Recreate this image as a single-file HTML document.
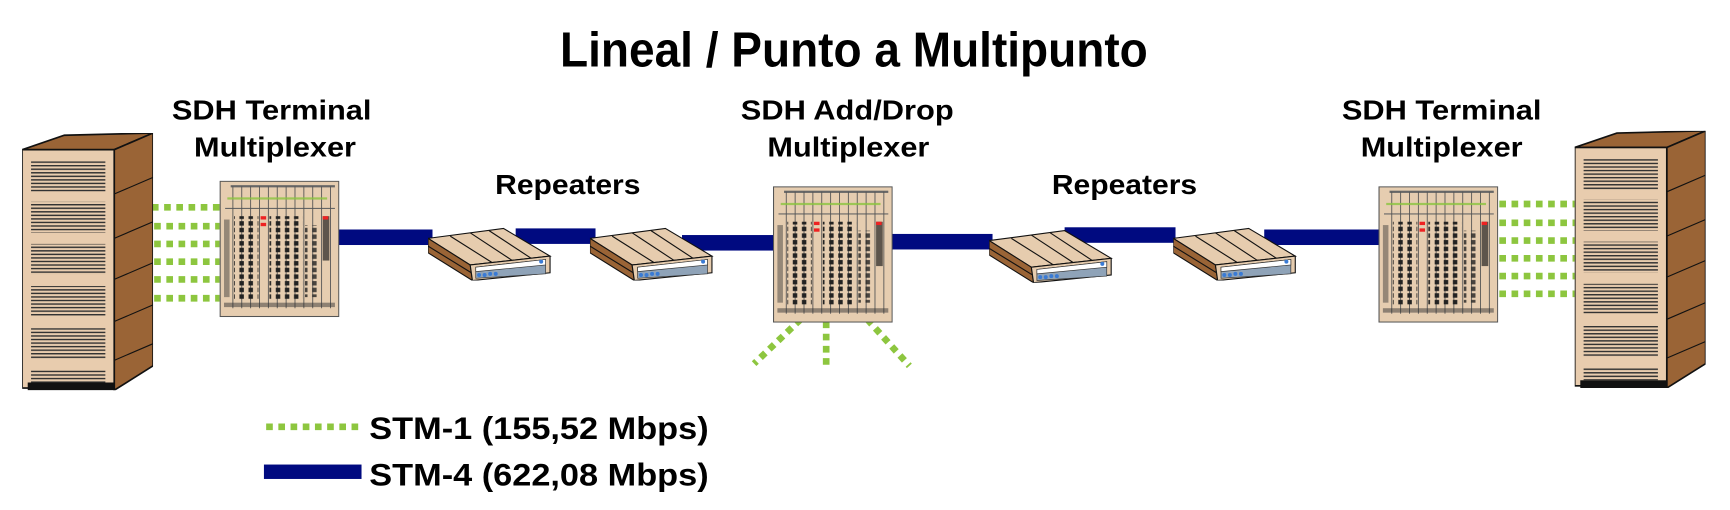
<!DOCTYPE html>
<html><head><meta charset="utf-8"><style>html,body{margin:0;padding:0;background:#fff}svg{display:block}</style></head>
<body>
<svg width="1730" height="510" viewBox="0 0 1560 460" preserveAspectRatio="none" xmlns="http://www.w3.org/2000/svg" font-family="Liberation Sans, sans-serif" font-weight="bold">
<defs>
  <pattern id="rk" width="4" height="3.2" patternUnits="userSpaceOnUse"><rect width="4" height="1.3" fill="#333"/></pattern>
  <pattern id="cells" width="8.2" height="6" patternUnits="userSpaceOnUse"><rect x="1.5" y="0.5" width="4" height="4" fill="#222"/></pattern>
  <symbol id="rack" viewBox="0 0 118 232" width="118" height="232">
    <polygon points="0,15 38,2 118,0 83,15" fill="#9a6436" stroke="#111" stroke-width="1.5"/>
    <polygon points="83,15 118,0 118,210 83,232" fill="#9a6436" stroke="#111" stroke-width="1.5"/>
    <line x1="83" y1="55" x2="118" y2="40" stroke="#111"/><line x1="83" y1="95" x2="118" y2="80" stroke="#111"/>
    <line x1="83" y1="132" x2="118" y2="117" stroke="#111"/><line x1="83" y1="170" x2="118" y2="155" stroke="#111"/>
    <line x1="83" y1="205" x2="118" y2="190" stroke="#111"/>
    <rect x="0" y="15" width="83" height="215" fill="#e8ccae" stroke="#111" stroke-width="1.5"/>
    <rect x="5" y="225" width="78" height="7" fill="#111"/>
    <rect x="8" y="25" width="67" height="28" fill="url(#rk)"/><rect x="8" y="62" width="67" height="28" fill="url(#rk)"/>
    <rect x="8" y="100" width="67" height="28" fill="url(#rk)"/><rect x="8" y="138" width="67" height="28" fill="url(#rk)"/>
    <rect x="8" y="176" width="67" height="28" fill="url(#rk)"/><rect x="8" y="213" width="67" height="12" fill="url(#rk)"/>
  </symbol>
  <symbol id="mux" viewBox="0 0 108 123" width="108" height="123">
    <rect x="0.5" y="0.5" width="107" height="122" fill="#e6cdb0" stroke="#555"/>
    <rect x="10" y="4" width="94" height="2" fill="#666"/>
    <line x1="5" y1="25" x2="104" y2="25" stroke="#666"/>
    <g stroke="#555" stroke-width="0.8">
      <line x1="12" y1="5" x2="12" y2="115"/><line x1="20" y1="5" x2="20" y2="115"/><line x1="28" y1="5" x2="28" y2="115"/>
      <line x1="36" y1="5" x2="36" y2="115"/><line x1="44" y1="5" x2="44" y2="115"/><line x1="52" y1="5" x2="52" y2="115"/>
      <line x1="60" y1="5" x2="60" y2="115"/><line x1="68" y1="5" x2="68" y2="115"/><line x1="76" y1="5" x2="76" y2="115"/>
      <line x1="84" y1="5" x2="84" y2="115"/><line x1="92" y1="5" x2="92" y2="115"/><line x1="100" y1="5" x2="100" y2="115"/>
    </g>
    <g fill="#8bc43f"><rect x="7" y="15" width="90" height="2" opacity="0.8"/></g>
    <rect x="13" y="32" width="22" height="75" fill="url(#cells)"/>
    <rect x="45" y="32" width="30" height="75" fill="url(#cells)"/>
    <rect x="77" y="40" width="14" height="65" fill="url(#cells)" opacity="0.8"/>
    <rect x="93" y="32" width="6" height="40" fill="#222" opacity="0.7"/>
    <rect x="4" y="35" width="5" height="70" fill="#333" opacity="0.45"/>
    <rect x="37" y="32" width="5" height="3" fill="#e22"/><rect x="37" y="38" width="5" height="3" fill="#e22"/>
    <rect x="93" y="32" width="5" height="3" fill="#e22"/>
    <rect x="4" y="110" width="100" height="4" fill="#333" opacity="0.5"/>
  </symbol>
  <symbol id="rep" viewBox="0 0 112 50" width="112" height="50">
    <polygon points="0,12 68,3 110,28 38,36" fill="#e6ccae" stroke="#111"/>
    <line x1="20" y1="10" x2="58" y2="34" stroke="#111"/><line x1="38" y1="7" x2="76" y2="32" stroke="#111"/><line x1="55" y1="5" x2="93" y2="30" stroke="#111"/>
    <polygon points="0,12 38,36 40,50 0,25" fill="#9a6436" stroke="#111"/>
    <line x1="0" y1="19" x2="39" y2="43" stroke="#111"/>
    <polygon points="38,36 110,28 110,43 40,50" fill="#e6ccae" stroke="#111"/>
    <polygon points="43,38 106,31 106,44 43,48" fill="#8fa3b8" stroke="#333" stroke-width="0.6"/>
    <polygon points="43,38 106,31 106,36 43,42" fill="#fff" stroke="#333" stroke-width="0.6"/>
    <g fill="#3a7bd5"><circle cx="46" cy="45" r="1.8"/><circle cx="51" cy="45" r="1.8"/><circle cx="56" cy="44" r="1.8"/><circle cx="61" cy="44" r="1.8"/><circle cx="102" cy="33" r="1.8"/></g>
  </symbol>
</defs>

<text x="770" y="60" font-size="44" text-anchor="middle" textLength="530" lengthAdjust="spacingAndGlyphs" fill="#000">Lineal / Punto a Multipunto</text>

<g font-size="25" text-anchor="middle" fill="#000">
  <text x="245" y="108" textLength="180" lengthAdjust="spacingAndGlyphs">SDH Terminal</text>
  <text x="248" y="141" textLength="146" lengthAdjust="spacingAndGlyphs">Multiplexer</text>
  <text x="764" y="108" textLength="192" lengthAdjust="spacingAndGlyphs">SDH Add/Drop</text>
  <text x="765" y="141" textLength="146" lengthAdjust="spacingAndGlyphs">Multiplexer</text>
  <text x="1300" y="108" textLength="180" lengthAdjust="spacingAndGlyphs">SDH Terminal</text>
  <text x="1300" y="141" textLength="146" lengthAdjust="spacingAndGlyphs">Multiplexer</text>
  <text x="512" y="175" textLength="131" lengthAdjust="spacingAndGlyphs">Repeaters</text>
  <text x="1014" y="175" textLength="131" lengthAdjust="spacingAndGlyphs">Repeaters</text>
</g>

<g fill="#000a80">
  <rect x="305" y="207" width="85" height="14"/>
  <rect x="465" y="206" width="72" height="14"/>
  <rect x="615" y="212" width="84" height="14"/>
  <rect x="803" y="211" width="92" height="14"/>
  <rect x="960" y="205" width="100" height="14"/>
  <rect x="1140" y="207" width="105" height="14"/>
</g>

<g stroke="#8dc63f" stroke-width="6" stroke-dasharray="6,5" fill="none">
  <line x1="137" y1="187" x2="198" y2="187"/><line x1="139" y1="204" x2="198" y2="204"/>
  <line x1="139" y1="220" x2="198" y2="220"/><line x1="139" y1="236" x2="198" y2="236"/>
  <line x1="139" y1="252" x2="198" y2="252"/><line x1="139" y1="269" x2="198" y2="269"/>
  <line x1="1352" y1="184" x2="1420" y2="184"/><line x1="1352" y1="201" x2="1420" y2="201"/>
  <line x1="1352" y1="217" x2="1420" y2="217"/><line x1="1352" y1="233" x2="1420" y2="233"/>
  <line x1="1352" y1="249" x2="1420" y2="249"/><line x1="1352" y1="265" x2="1420" y2="265"/>
  <line x1="722" y1="288" x2="680" y2="328"/>
  <line x1="745" y1="290" x2="745" y2="331"/>
  <line x1="782" y1="288" x2="820" y2="330"/>
  <line x1="240" y1="385" x2="328" y2="385"/>
</g>

<use href="#rack" x="20" y="120"/>
<use href="#rack" x="1420" y="118"/>
<use href="#mux" x="198" y="163"/>
<use href="#mux" x="697" y="168"/>
<use href="#mux" x="1243" y="168"/>
<use href="#rep" x="386" y="203"/>
<use href="#rep" x="532" y="203"/>
<use href="#rep" x="892" y="205"/>
<use href="#rep" x="1058" y="203"/>

<rect x="238" y="419" width="88" height="13" fill="#000a80"/>
<g font-size="28" fill="#000">
  <text x="333" y="396" textLength="306" lengthAdjust="spacingAndGlyphs">STM-1 (155,52 Mbps)</text>
  <text x="333" y="438" textLength="306" lengthAdjust="spacingAndGlyphs">STM-4 (622,08 Mbps)</text>
</g>
</svg>
</body></html>
